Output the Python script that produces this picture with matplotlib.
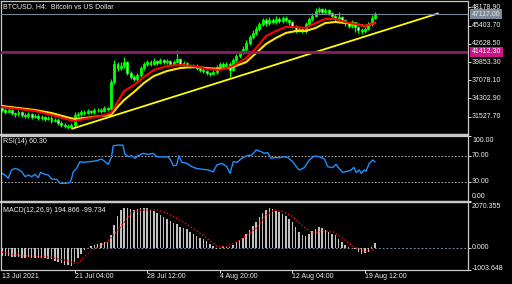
import matplotlib
matplotlib.use('Agg')
import matplotlib.pyplot as plt
from matplotlib.lines import Line2D
import numpy as np

# ---------------- data ----------------
first_open = 32800
closes = [32600,32300,32500,32100,31900,32200,31800,31600,31900,31500,
          31700,31400,31500,31200,31400,30900,31100,30500,30300,30100,
          29900,30200,31800,31900,32300,32100,32400,32200,32500,32600,
          32400,32800,32700,36800,39600,38900,39300,39800,38200,37600,
          37300,37800,38900,39500,39800,39600,40000,39700,40100,39900,
          40000,39600,39900,40300,39500,39700,39400,39200,39300,38900,
          38700,38500,38200,38000,38300,39100,39500,39300,39600,38700,
          40100,40800,41300,41900,42800,43600,44200,44900,45600,46200,
          45800,46300,46000,46400,46100,46500,46200,45900,45300,44700,
          44900,44500,45600,46400,46900,47600,47900,47500,47800,47300,
          46900,46400,46700,46200,45800,45400,45900,45200,44800,44500,
          44900,45700,46600,47117]
highs = [33000,32800,32900,32700,32300,32500,32400,32100,32200,32100,
         32000,31900,31800,31700,31700,31600,31400,31300,30800,30600,
         30400,30500,32200,32300,32600,32500,32700,32600,32800,32900,
         32800,33100,33000,37200,40100,39900,39800,40600,40000,38500,
         37900,38200,39200,39900,40200,40100,40400,40200,40500,40300,
         40300,40200,40200,41700,40500,40000,39900,39600,39600,39500,
         39100,38900,38700,38400,38600,39400,39800,39800,39900,39800,
         40400,41100,41600,42300,43200,44000,44700,45300,46000,46600,
         46500,46700,46600,46800,46700,46900,46800,46400,46100,45500,
         45200,45100,45900,46700,47300,48100,48200,48100,48000,47900,
         47500,47100,47400,46900,46400,46000,46200,46000,45400,45000,
         45200,46000,47000,47500]
lows = [32300,32000,32100,31800,31500,31700,31500,31300,31400,31200,
        31300,31100,31100,30900,31000,30600,30700,30200,29900,29800,
        29600,29700,30000,31500,31700,31800,31900,31900,32000,32200,
        32100,32200,32400,32500,36500,38500,38600,39000,37900,37200,
        36900,37000,37600,38600,39200,39300,39400,39400,39500,39600,
        39600,39300,39400,39700,39200,39300,39100,38900,38900,38600,
        38400,38200,37900,37700,37800,38100,38900,39000,39100,37600,
        38500,39900,40500,41000,41600,42500,43300,43900,44600,45300,
        45400,45500,45600,45700,45800,45800,45900,45500,45000,44300,
        44400,44200,44300,45300,46100,46700,47300,47200,47200,47000,
        46600,46100,46200,45800,45400,45000,45100,44400,44300,44100,
        44200,44700,45400,46400]

ma_idx = [0,5,10,15,20,22,25,30,33,35,37,40,43,46,50,54,58,62,66,70,74,77,80,83,86,89,92,95,98,101,104,107,110,113]
ma_red = [33000,32700,32400,31790,31100,30870,31180,31640,32090,33770,35440,36350,37570,38640,39250,39400,39250,38790,
          38640,39250,40460,41980,43810,44570,45180,45180,45030,45790,46400,46400,45940,45640,45330,45790]
ma_yellow = [33160,32850,32550,32090,31410,31180,31330,31640,31790,33010,34070,35290,36660,37720,38480,38940,39090,38940,
             38790,39090,39850,41220,42590,43510,44270,44570,44570,45030,45790,45940,45790,45640,45330,45790]

trend_idx = [21.2, 132.3]
trend_price = [29690, 47270]
hline_price = 41412.30
current_price = 47117.00

price_ticks = [48178.90, 45403.70, 42628.50, 39853.30, 37078.10, 34302.90, 31527.70]

rsi_idx = [0,0.9,1.9,2.9,3.9,4.9,6.0,7.0,8.0,9.0,10.0,11.0,11.7,13.0,14.0,15.1,16.6,17.6,19.1,20.6,21.1,21.6,22.6,23.6,
           24.6,26.7,28.7,30.2,31.2,32.2,33.2,33.7,35.2,36.6,37.3,38.3,39.3,40.3,41.3,42.8,44.3,45.8,46.9,48.9,50.4,51.1,
           51.9,52.9,53.6,54.5,56.0,57.5,59.0,61.0,62.5,64.0,65.1,66.6,68.1,69.1,70.1,71.3,72.6,74.2,75.7,77.0,78.5,79.5,
           80.5,81.5,82.5,84.0,85.5,86.6,88.1,89.6,90.1,91.6,93.1,94.6,96.2,97.7,98.7,100.2,101.2,101.7,103.2,104.8,
           105.8,106.6,107.3,108.3,108.8,109.8,110.3,111.3,112.3,113.0]
rsi_vals = [42.6,40,35,47.7,50,48.7,45,37.4,40,37.4,41,35.9,44,41,40,33.8,33.3,27.2,27.2,28.2,35,45,50,60.5,
            59.5,60.5,62,64.6,60.5,56.4,68.2,85,86,86,71.8,68.2,69.7,65.6,69.7,73.3,71.8,73.3,68.2,67.7,67.7,63,
            54.3,55,69.7,59.5,58,52.8,50,48.7,47.7,45,55.4,58,52.8,42.6,60.5,59.5,65.6,69.7,70.8,78.5,76,73.3,
            74.6,65.6,66.7,66.7,68.2,66.7,60.5,50,47.7,51.3,63,69.2,68.2,64.6,52.8,51.3,56.4,52.8,44,45.8,
            47.7,51.8,44,47.7,42.6,47.7,45.8,58,63,60.3]

macd_hist = [-350,-370,-390,-400,-420,-410,-440,-450,-430,-460,
             -450,-470,-440,-470,-490,-520,-580,-650,-700,-760,
             -800,-820,-620,-480,-300,-120,-20,60,140,180,
             230,250,260,600,1050,1450,1700,1780,1800,1760,
             1720,1750,1780,1790,1780,1760,1650,1580,1470,1380,
             1290,1210,1120,1060,950,900,830,720,620,540,
             460,380,300,180,60,-60,-20,60,90,40,
             120,240,330,460,640,820,980,1150,1380,1560,
             1720,1810,1750,1670,1600,1540,1420,1300,1150,940,
             700,560,520,620,760,860,920,900,820,700,
             630,560,420,280,130,40,-30,-60,-200,-270,
             -250,-180,30,195]
sig_idx = [0,5.5,14.5,19.7,21.8,23,24.5,27.6,31.8,34.8,37.9,39.7,41.8,47,50,53.9,57.9,62.1,65.2,68.2,72.1,
           77,80,82.4,85.2,88.2,91.2,94.2,97.3,100.3,103.3,106.4,108.2,110.3,113]
sig_vals = [-200,-350,-420,-580,-700,-680,-470,-80,280,730,1330,1630,1700,1720,1560,1260,880,430,50,50,350,
            880,1480,1710,1630,1410,960,660,760,730,430,50,-50,-150,-100]
macd_max, macd_min = 2070.355, -1003.648

time_tick_idx = [0, 22, 44, 66, 88, 110]
time_labels = ['13 Jul 2021', '21 Jul 04:00', '28 Jul 12:00', '4 Aug 20:00', '12 Aug 04:00', '19 Aug 12:00']

# ---------------- figure ----------------
W, H = 512, 284
FONT = 'Liberation Sans'
FS = 5
TXT = '#f0f0f0'
plt.rcParams['font.family'] = [FONT, 'DejaVu Sans']

fig = plt.figure(figsize=(W / 100, H / 100), dpi=100, facecolor='black')

def rect(top, bottom, left=1, right=468):
    return [left / W, 1 - bottom / H, (right - left) / W, (bottom - top) / H]

ax = fig.add_axes(rect(1, 134))
ax_rsi = fig.add_axes(rect(136, 201))
ax_macd = fig.add_axes(rect(202, 270))

XLIM = (-0.3, 141.2)
for a in (ax, ax_rsi, ax_macd):
    a.set_facecolor('black')
    a.set_xlim(*XLIM)
    for s in a.spines.values():
        s.set_color('#c8c8c8')
        s.set_linewidth(0.9)
    a.set_xticks([])
    a.yaxis.tick_right()
    a.tick_params(axis='y', direction='out', length=2.2, width=0.7, colors='#e0e0e0',
                  labelright=False, labelleft=False, left=False, right=True)

# main price panel
ax.set_ylim(28895, 49138)
x = np.arange(len(closes))
opens = np.array([first_open] + closes[:-1], dtype=float)
c = np.array(closes, dtype=float)
ax.vlines(x, lows, highs, color='#00ff00', lw=0.9, zorder=2)
bottoms = np.minimum(opens, c)
heights = np.maximum(np.abs(c - opens), 80)
face = ['#00ff00' if cc >= oo else '#e8ffe8' for oo, cc in zip(opens, c)]
ax.bar(x, heights, bottom=bottoms, width=0.6, color=face, edgecolor='#00ff00', linewidth=0.6, zorder=2)

ax.plot(ma_idx, ma_yellow, color='#ffe600', lw=1.5, zorder=3)
ax.plot(ma_idx, ma_red, color='#ff0000', lw=1.5, zorder=3)
ax.plot(trend_idx, trend_price, color='#ffff00', lw=1.3, zorder=4, solid_capstyle='butt')
ax.axhline(hline_price, color='#8c1f63', lw=2.0, zorder=4)
ax.axhline(current_price, color='#778899', lw=0.8, zorder=4)

ax.set_yticks(price_ticks)

def rlabel(a, val, text, dy=0, color=TXT, **kw):
    a.annotate(text, xy=(1, val), xycoords=a.get_yaxis_transform(), xytext=(4, dy),
               textcoords='offset pixels', va='center', ha='left', fontsize=FS,
               color=color, annotation_clip=False, family=[FONT, 'DejaVu Sans'], **kw)

for p in price_ticks:
    rlabel(ax, p, f'{p:.2f}')
rlabel(ax, current_price, f'{current_price:.2f}', color='#e6e6e6',
       bbox=dict(boxstyle='square,pad=0.22', fc='#7d8b99', ec='none'))
rlabel(ax, hline_price, f'{hline_price:.2f}', color='#f4f4f4',
       bbox=dict(boxstyle='square,pad=0.22', fc='#c8168a', ec='none'))

# RSI panel
ax_rsi.set_ylim(0, 100)
ax_rsi.axhline(70, color='#c8c8c8', lw=0.6, ls=(0, (2, 2)))
ax_rsi.axhline(30, color='#c8c8c8', lw=0.6, ls=(0, (2, 2)))
ax_rsi.plot(rsi_idx, rsi_vals, color='#1e90ff', lw=1.0)
ax_rsi.set_yticks([100, 70, 30, 0])
rlabel(ax_rsi, 100, '100.00', dy=-4.5)
rlabel(ax_rsi, 70, '70.00')
rlabel(ax_rsi, 30, '30.00')
rlabel(ax_rsi, 0, '0.00', dy=4)

# MACD panel
ax_macd.set_ylim(macd_min, macd_max)
ax_macd.axhline(0, color='#778899', lw=0.7, ls=(0, (2, 2)), zorder=1)
ax_macd.bar(x, macd_hist, width=0.45, color='#c0c0c0', zorder=2)
ax_macd.plot(sig_idx, sig_vals, color='#ff0000', lw=1.0, ls=(0, (1, 1.5)), zorder=3)
ax_macd.set_yticks([macd_max, 0, macd_min])
rlabel(ax_macd, macd_max, f'{macd_max:.3f}', dy=-4.7)
rlabel(ax_macd, 0, '0.000')
rlabel(ax_macd, macd_min, f'{macd_min:.3f}', dy=1.5)

# time axis
ax_macd.set_xticks(time_tick_idx[1:])
ax_macd.tick_params(axis='x', direction='out', length=2.2, width=0.7, colors='#e0e0e0',
                    labelbottom=False, bottom=True)
for ti, lab in zip(time_tick_idx, time_labels):
    ax_macd.annotate(lab, xy=(ti, 0), xycoords=ax_macd.get_xaxis_transform(),
                     xytext=(0, -7), textcoords='offset pixels',
                     va='center', ha='left', fontsize=FS, color=TXT, annotation_clip=False)

# panel separators
for yy in (134.8, 201.5):
    fig.add_artist(Line2D([0, 468 / W], [1 - yy / H] * 2, color='#c8c8c8', lw=1.6,
                          transform=fig.transFigure))

# texts
fig.text(3 / W, 1 - 6.5 / H, 'BTCUSD, H4:  Bitcoin vs US Dollar', fontsize=FS, color=TXT,
         va='center', ha='left')
fig.text(3 / W, 1 - 141.5 / H, 'RSI(14) 60.30', fontsize=FS, color=TXT, va='center', ha='left')
fig.text(3 / W, 1 - 210 / H, 'MACD(12,26,9) 194.866 -99.734', fontsize=FS, color=TXT,
         va='center', ha='left')

fig.savefig('out.png', dpi=100, facecolor='black')
